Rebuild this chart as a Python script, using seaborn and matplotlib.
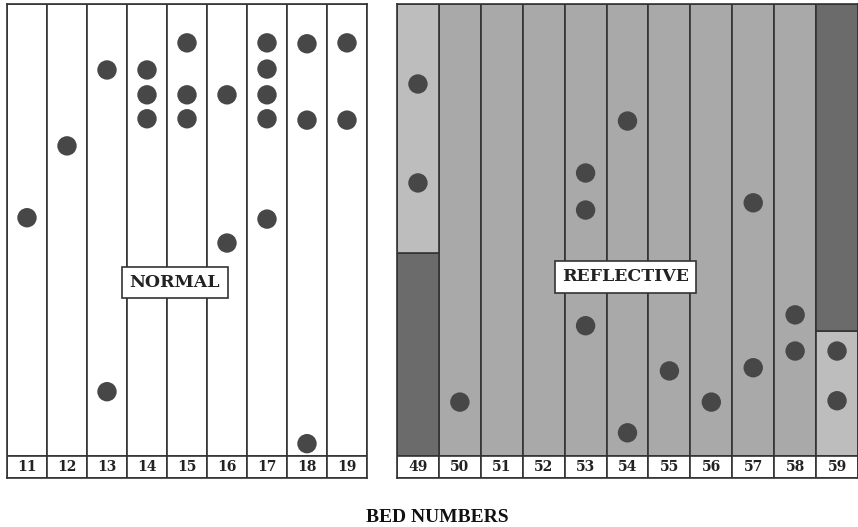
import matplotlib
matplotlib.use("Agg")
import matplotlib.pyplot as plt
import seaborn as sns
import pandas as pd

# bed numbers
normalBeds = [11, 12, 13, 14, 15, 16, 17, 18, 19]
reflectiveBeds = [49, 50, 51, 52, 53, 54, 55, 56, 57, 58, 59]

# dots: bed and vertical position (0 = bottom, 100 = top)
normalDotBed = [11, 12, 13, 13, 14, 14, 14, 15, 15, 15, 16, 16,
                17, 17, 17, 17, 17, 18, 18, 18, 19, 19]
normalDotPos = [52.7, 68.6, 85.4, 14.2, 85.4, 79.9, 74.6, 91.4, 79.9, 74.6, 79.9, 47.1,
                91.4, 85.6, 79.9, 74.6, 52.4, 91.2, 74.3, 2.7, 91.4, 74.3]
reflectiveDotBed = [49, 49, 50, 53, 53, 53, 54, 54, 55, 56, 57, 57, 58, 58, 59, 59]
reflectiveDotPos = [82.3, 60.4, 11.9, 62.6, 54.4, 28.8, 74.1, 5.1, 18.8, 11.9,
                    56.0, 19.5, 31.2, 23.2, 23.2, 12.2]

# shaded parts of reflective beds: bed, bottom, top, shade
shadeBed = [49, 49, 59, 59]
shadeBottom = [0, 44.9, 0, 27.7]
shadeTop = [44.9, 100, 27.7, 100]
shadeKind = ["dark", "light", "light", "dark"]

shadeColors = {"plain": "#ffffff", "medium": "#a9a9a9", "light": "#bdbdbd", "dark": "#6b6b6b"}
dotColor = "#474747"
lineColor = "#333333"
labelRow = 4.9

sns.set_style("white")
W, H = 858, 527
fig = plt.figure(figsize=(W / 100, H / 100), dpi=100)


def drawPanel(rect, beds, dotBed, dotPos, baseColor, title, titlePos):
    ax = fig.add_axes(rect)
    n = len(beds)
    xs = list(range(n))
    ax.bar(xs, [100] * n, width=1, bottom=0, color=baseColor,
           edgecolor=lineColor, linewidth=1.2, align="edge")
    if title == "REFLECTIVE":
        for b, lo, hi, k in zip(shadeBed, shadeBottom, shadeTop, shadeKind):
            i = beds.index(b)
            ax.bar(i, hi - lo, width=1, bottom=lo, color=shadeColors[k],
                   edgecolor=lineColor, linewidth=1.2, align="edge")
    # label row
    ax.bar(xs, [labelRow] * n, width=1, bottom=-labelRow, color="white",
           edgecolor=lineColor, linewidth=1.2, align="edge")
    for i, b in enumerate(beds):
        ax.text(i + 0.5, -labelRow / 2, str(b), ha="center", va="center",
                fontsize=10, fontweight="bold", family="DejaVu Serif", color="#222222")
    df = pd.DataFrame({"x": [beds.index(b) + 0.5 for b in dotBed], "y": dotPos})
    sns.scatterplot(data=df, x="x", y="y", ax=ax, s=195, color=dotColor,
                    edgecolor="none", zorder=5, legend=False)
    ax.text(titlePos[0], titlePos[1], title, ha="center", va="center", fontsize=12.5,
            fontweight="bold", family="DejaVu Serif", color="#222222", zorder=6,
            bbox=dict(boxstyle="square,pad=0.42", facecolor="white",
                      edgecolor=lineColor, linewidth=1.2))
    ax.set_xlim(0, n)
    ax.set_ylim(-labelRow, 100)
    ax.set_xlabel("")
    ax.set_ylabel("")
    ax.set_xticks([])
    ax.set_yticks([])
    for s in ax.spines.values():
        s.set_color(lineColor)
        s.set_linewidth(1.2)
    return ax


def pxRect(x0, y0, x1, y1):
    return [x0 / W, 1 - y1 / H, (x1 - x0) / W, (y1 - y0) / H]


drawPanel(pxRect(7, 4, 367, 478), normalBeds, normalDotBed, normalDotPos,
          shadeColors["plain"], "NORMAL", (4.2, 38.4))
drawPanel(pxRect(397, 4, 858, 478), reflectiveBeds, reflectiveDotBed, reflectiveDotPos,
          shadeColors["medium"], "REFLECTIVE", (5.45, 39.6))

fig.text(437 / W, 1 - 517 / H, "BED NUMBERS", ha="center", va="center",
         fontsize=14, fontweight="bold", family="Liberation Serif", color="#111111")

fig.savefig("out.png", dpi=100)
